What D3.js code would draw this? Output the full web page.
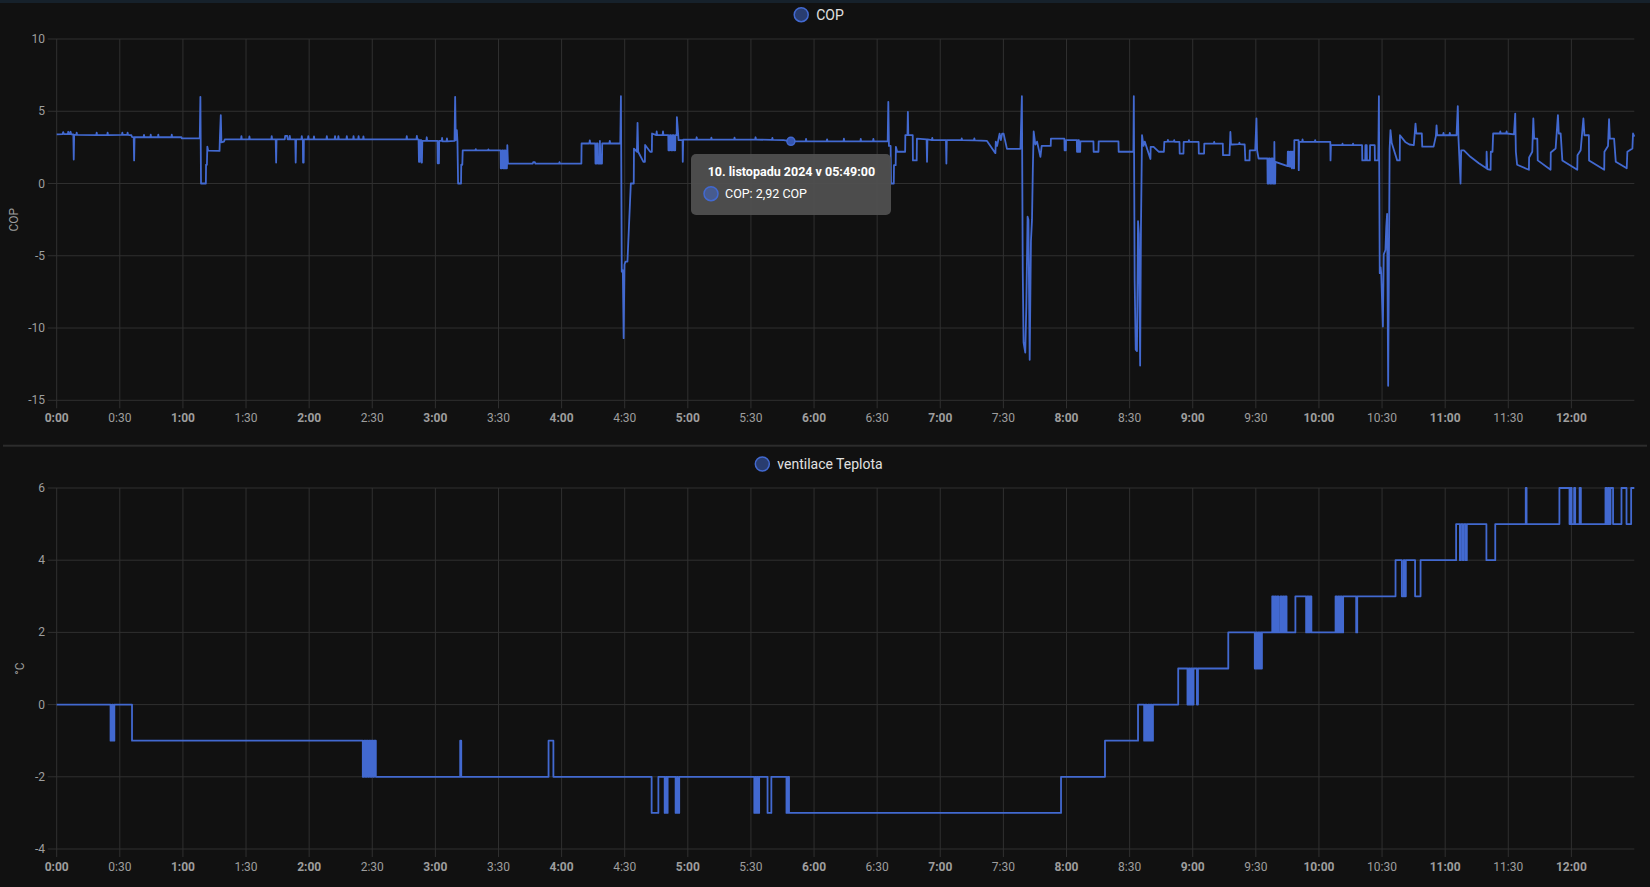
<!DOCTYPE html>
<html>
<head>
<meta charset="utf-8">
<script src="https://cdn.jsdelivr.net/npm/d3@7"></script>
<style>
  body { margin: 0; background: #111111; }
  svg { display: block; font-family: Roboto, "Noto Sans", sans-serif; }
</style>
</head>
<body>
<svg id="chart" width="1650" height="887"></svg>
<script>
// time in minutes since midnight (10. 11. 2024), value
const copPoints = [
  [0,3.4],[2.8,3.42],[3.1,3.56],[3.4,3.42],[5.3,3.42],[5.5,3.58],[5.8,3.42],[6.4,3.42],[6.6,3.58],[6.9,3.4],
  [7.9,3.4],[8.1,1.66],[8.3,3.36],[9.3,3.36],[9.5,3.52],[9.7,3.36],
  [18.8,3.35],[19.0,3.52],[19.2,3.35],[24.0,3.35],[24.2,3.52],[24.4,3.35],
  [31.0,3.36],[31.2,3.52],[31.4,3.36],[33.5,3.36],[33.7,3.52],[33.9,3.36],
  [35.5,3.34],[35.8,3.22],[36.6,3.2],[36.8,1.6],[37.0,3.2],
  [41.3,3.2],[41.5,3.36],[41.7,3.2],[44.5,3.2],[44.7,3.38],[44.9,3.2],
  [48.1,3.2],[48.3,3.38],[48.5,3.2],[54.5,3.2],[54.7,3.38],[54.9,3.2],
  [59.3,3.2],[59.5,3.13],[68.0,3.12],
  [68.3,6.0],[68.6,0],[70.9,0],[71.0,1.3],[71.4,1.3],[71.6,2.55],[72.0,2.28],[77.4,2.26],
  [77.6,3.3],[78.0,4.73],[78.3,2.85],[79.5,2.9],[79.9,3.05],
  [87.6,3.05],[87.8,3.28],[88.0,3.05],[91.4,3.05],[91.6,3.26],[91.8,3.05],
  [102.0,3.05],[102.2,3.28],[102.4,3.05],[104.1,3.05],[104.3,1.45],[104.5,3.05],
  [108.4,3.05],[108.6,3.3],[109.6,3.3],[109.8,3.05],[110.6,3.05],[110.8,3.3],[111.0,3.05],
  [113.4,3.05],[113.6,1.45],[113.8,3.05],[116.3,3.05],[116.5,3.28],[116.7,3.05],
  [117.0,3.05],[117.1,1.45],[117.4,1.45],[117.5,3.05],
  [119.4,3.05],[119.6,3.28],[119.8,3.05],[122.1,3.05],[122.3,3.26],[122.5,3.05],
  [128.2,3.05],[128.4,3.28],[128.6,3.05],[132.1,3.05],[132.3,3.28],[132.5,3.05],
  [133.7,3.05],[133.9,3.28],[134.1,3.05],[137.7,3.05],[137.9,3.28],[138.1,3.05],
  [140.9,3.05],[141.1,3.28],[141.3,3.05],[143.3,3.05],[143.5,3.28],[143.7,3.05],
  [145.6,3.05],[145.8,3.26],[146.0,3.05],[166.2,3.05],[166.4,3.28],[166.6,3.05],
  [171.0,3.05],[171.2,3.3],[171.4,3.05],[172.0,3.05],[172.2,1.5],[172.5,1.5],[172.6,3.0],
  [173.3,3.0],[173.4,1.45],[173.6,1.45],[173.8,2.95],[175.7,2.95],[175.9,3.2],[176.1,2.95],
  [181.0,2.95],[181.1,1.4],[181.7,1.4],[181.8,2.95],[183.0,2.95],[183.2,3.15],[183.4,2.92],
  [185.3,2.92],[185.5,3.12],[185.7,2.92],[189.1,2.95],
  [189.4,6.0],[189.7,3.0],[190.2,3.7],[190.5,2.9],[190.8,0],[192.2,0],[192.3,1.3],[192.8,1.3],[193.0,2.3],
  [199.0,2.3],[199.2,2.38],[199.4,2.3],[205.0,2.3],[205.2,2.36],[205.4,2.3],[211.0,2.3],
  [211.1,1.05],[211.6,1.05],[211.7,2.3],[212.2,2.3],[212.3,1.05],[212.8,1.05],[212.9,2.3],[213.3,2.3],
  [213.4,1.05],[214.0,1.05],[214.2,2.65],[214.5,1.38],
  [226.3,1.38],[226.5,1.48],[227.3,1.48],[227.5,1.38],[238.8,1.38],[239.0,1.48],[239.2,1.38],[249.4,1.38],
  [249.5,2.77],[253.2,2.77],[253.4,2.98],[253.6,2.77],[256.0,2.77],[256.1,1.38],[256.6,1.38],[256.7,2.77],
  [257.2,2.77],[257.3,1.38],[258.1,1.38],[258.2,2.95],[258.5,1.38],[259.2,1.38],[259.3,2.77],
  [262.7,2.77],[262.9,2.95],[263.1,2.77],[267.9,2.77],
  [268.2,6.04],[268.6,-6.1],[269.1,-6.0],[269.5,-10.7],[269.9,-5.6],[270.4,-5.4],[271.3,-5.4],[272.9,0],[274.3,0],
  [274.4,2.42],[275.8,2.2],[276.1,4.2],[276.4,2.2],[278.9,1.5],[279.6,1.5],[279.7,2.67],[282.1,2.2],[282.9,2.2],[283.0,3.46],
  [285.0,3.35],[285.2,3.6],[285.4,3.35],[288.0,3.35],[288.2,3.6],[288.4,3.35],[290.7,3.35],
  [290.8,2.3],[291.4,2.3],[291.5,3.35],[292.0,3.35],[292.1,2.3],[292.7,2.3],[292.8,3.35],[293.3,3.35],
  [293.4,2.3],[294.0,2.3],[294.1,3.35],
  [294.7,3.35],[294.8,4.6],[295.6,3.0],[297.5,3.0],[297.6,1.5],[297.8,3.04],
  [304.0,3.04],[304.2,3.2],[304.4,3.04],[311.0,3.04],[311.2,3.18],[311.4,3.04],[322.0,3.04],[322.2,3.18],[322.4,3.04],
  [332.0,3.04],[332.2,3.2],[332.4,3.04],[340.0,3.02],[340.2,3.16],[340.4,3.02],
  [345.5,3.0],[349.0,2.92],
  [356.0,2.92],[356.2,3.08],[356.4,2.92],[366.0,2.92],[366.2,3.06],[366.4,2.92],[374.0,2.92],[374.2,3.1],[374.4,2.92],
  [382.0,2.92],[382.2,3.08],[382.4,2.92],[388.0,2.92],[388.2,3.08],[388.4,2.92],
  [395.0,2.92],[395.3,5.65],[395.6,2.6],[396.4,2.6],[396.6,0],[397.9,0],[398.0,1.27],[398.8,1.27],[398.9,2.54],
  [399.5,2.2],[403.3,2.2],[403.4,3.35],[404.4,3.35],[404.6,4.96],[404.8,3.35],[406.9,3.35],[407.0,1.6],[408.8,1.6],[408.9,3.1],
  [413.5,3.05],[413.7,1.5],[413.9,3.05],[416.0,3.0],[416.2,3.15],[416.4,3.0],[422.7,3.0],[422.9,1.38],[423.1,3.0],
  [430.0,3.0],[430.2,3.12],[430.4,3.0],[436.0,2.98],[436.2,3.12],[436.4,2.98],
  [442.2,2.95],[446.2,2.1],[446.4,2.9],[447.0,2.6],[448.2,3.45],[448.8,3.0],[449.4,3.45],[450.1,3.45],[451.7,2.4],[458.1,2.4],
  [458.8,6.04],[459.2,-6.0],[459.6,-11.0],[460.4,-11.7],[460.9,-8.5],[461.5,-2.3],[461.9,-2.5],[462.5,-12.2],
  [463.1,-4.0],[463.6,-2.5],[464.0,1.0],[464.4,3.6],[465.2,2.7],[466.0,2.9],[467.6,1.85],[468.2,2.6],
  [472.5,2.6],[472.6,3.1],[479.0,3.1],[479.1,2.3],[479.7,2.3],[479.8,3.0],[484.9,3.0],
  [485.0,2.2],[485.4,2.2],[485.5,3.0],[485.9,3.0],[486.0,2.2],[486.5,2.2],[486.6,2.92],[492.8,2.92],[492.9,2.2],
  [495.2,2.2],[495.3,2.92],[504.7,2.92],[504.8,2.2],[511.8,2.2],
  [512.0,6.04],[512.4,-6.7],[512.9,-11.5],[513.5,-11.6],[514.0,-2.6],[514.4,-3.5],[515.0,-12.6],[515.4,-3.0],
  [515.9,3.35],[516.6,2.6],[517.2,2.9],[519.9,1.7],
  [520.0,2.54],[521.4,2.54],[523.8,2.2],[526.3,2.2],[526.5,2.88],[528.0,2.9],[528.2,3.02],[528.4,2.9],[531.0,2.9],
  [531.2,3.0],[531.4,2.88],[533.7,2.88],[533.8,2.07],[535.6,2.07],[535.7,2.88],
  [538.0,2.88],[538.2,3.0],[538.4,2.88],[542.8,2.88],[542.9,2.07],[545.4,2.07],[545.5,2.76],
  [550.0,2.76],[550.2,2.88],[550.4,2.76],[554.3,2.76],[554.4,1.96],[557.5,1.96],[557.9,3.57],[558.2,2.7],[558.7,2.7],
  [562.0,2.72],[562.2,2.82],[562.4,2.72],[564.7,2.7],[565.0,1.6],[567.0,1.6],[567.1,2.3],[569.7,2.3],[570.3,4.5],
  [570.6,2.3],[571.3,1.73],
  [575.5,1.73],[575.6,0],[576.1,0],[576.2,1.73],[576.7,1.73],[576.8,0],[577.4,0],[577.5,1.73],[578.0,1.73],
  [578.1,0],[578.7,0],[578.8,2.88],[579.0,0],[579.2,0],[579.3,1.5],
  [585.1,1.2],[585.2,2.2],[585.7,2.2],[585.8,1.18],[586.3,1.17],[586.4,2.2],[586.9,2.2],[587.0,1.12],[587.2,1.05],
  [587.4,2.2],[587.9,2.2],[588.0,1.05],[588.2,1.05],[588.3,3.0],
  [590.3,3.0],[590.4,0.92],[590.6,2.88],[592.0,2.88],[592.2,3.05],[592.4,2.88],
  [598.0,2.88],[598.2,3.0],[598.4,2.88],[605.4,2.88],[605.5,1.6],[605.7,2.65],
  [611.0,2.65],[611.2,2.76],[611.4,2.65],[616.0,2.65],[616.2,2.76],[616.4,2.65],[620.5,2.65],
  [620.6,1.6],[622.0,1.6],[622.1,2.65],[622.7,2.65],[622.8,1.6],[624.2,1.6],[624.3,2.65],[626.5,2.65],[626.6,1.6],[628.2,1.6],
  [628.5,6.04],[628.9,-6.2],[629.3,-5.8],[629.6,-6.2],[630.4,-9.9],[630.8,-4.9],[631.6,-4.6],[632.0,-3.0],[632.4,-2.1],
  [632.9,-14.0],[633.6,2.4],[634.0,3.7],[634.6,2.8],[637.2,1.6],[638.4,1.6],[638.5,3.34],[641.2,2.85],[643.0,2.7],
  [645.1,2.65],[645.9,4.15],[646.3,3.46],[648.9,3.46],[649.1,2.55],[654.5,2.55],[655.6,3.3],[655.9,4.03],[656.2,3.34],
  [659.0,3.34],[659.2,3.5],[659.4,3.34],[662.0,3.34],[662.2,3.5],[662.4,3.34],[665.4,3.34],
  [666.0,5.35],[666.3,3.2],[667.3,0],[667.6,2.3],[668.9,2.3],[672.0,1.85],[676.0,1.4],[679.6,1.05],[679.7,2.2],
  [680.0,1.0],[681.6,0.95],[681.7,2.2],[682.5,2.2],[682.8,3.46],
  [686.0,3.46],[686.2,3.6],[686.4,3.46],[689.0,3.46],[689.2,3.6],[689.4,3.46],[692.7,3.4],[693.3,4.84],[693.6,2.2],
  [694.2,1.3],[699.8,0.95],[699.9,1.8],[701.4,2.2],[701.9,4.5],[702.3,3.1],[703.8,3.1],[704.0,1.6],[710.1,0.95],
  [710.2,2.15],[712.5,2.42],[713.6,4.73],[714.0,3.46],[714.9,3.46],[715.7,1.6],[722.8,0.95],[722.9,1.95],[724.4,2.3],
  [725.7,4.5],[726.2,3.34],[728.3,3.34],[728.4,1.6],[735.6,0.95],[735.7,2.2],[737.4,2.6],[737.9,4.45],[738.3,3.1],
  [740.3,3.1],[741.1,1.5],[746.3,1.05],[746.6,2.2],[749.0,2.42],[749.3,3.46],[749.9,3.25]
];

// step changes of the ventilation temperature: minute, °C
const ventPoints = [
  [0,0],[25.6,-1],[26.3,0],[26.8,-1],[27.4,0],[35.8,-1],
  [145.5,-2],[146.1,-1],[146.8,-2],[147.3,-1],[148.0,-2],[148.5,-1],[149.2,-2],[149.7,-1],[150.4,-2],[150.9,-1],[151.7,-2],
  [191.8,-1],[192.3,-2],[233.8,-1],[236.1,-2],
  [282.8,-3],[286.0,-2],[289.0,-3],[289.5,-2],[290.0,-3],[290.4,-2],[294.2,-3],[294.8,-2],[295.3,-3],[295.9,-2],
  [331.6,-3],[332.1,-2],[332.6,-3],[333.1,-2],[333.5,-3],[333.9,-2],[337.9,-3],[339.7,-2],
  [346.9,-3],[347.5,-2],[348.1,-3],
  [477.4,-2],[498.3,-1],[514.0,0],
  [516.9,-1],[517.5,0],[518.1,-1],[518.8,0],[519.4,-1],[520.0,0],[520.5,-1],[521.1,0],
  [533.1,1],[537.5,0],[538.1,1],[538.7,0],[539.3,1],[539.8,0],[540.4,1],[542.0,0],[542.5,1],
  [556.9,2],[569.5,1],[570.1,2],[570.6,1],[571.2,2],[571.7,1],[572.3,2],[572.6,1],[572.9,2],
  [577.8,3],[578.4,2],[579.0,3],[579.6,2],[580.2,3],[580.8,2],
  [581.7,3],[582.3,2],[582.9,3],[583.5,2],[584.0,3],[584.6,2],
  [588.8,3],[593.9,2],[594.4,3],[595.1,2],[595.6,3],[596.4,2],
  [607.9,3],[608.5,2],[609.1,3],[609.7,2],[610.3,3],[610.9,2],[611.5,3],
  [617.7,2],[618.2,3],
  [636.4,4],[639.4,3],[640.3,4],[640.8,3],[641.3,4],[645.7,3],[648.3,4],
  [665.2,5],[667.0,4],[667.5,5],[668.4,4],[668.9,5],[669.8,4],[670.3,5],
  [679.6,4],[683.8,5],[698.3,6],[698.7,5],
  [714.3,6],[719.1,5],[719.6,6],[720.1,5],[721.3,6],[721.8,5],[723.9,6],[724.5,5],
  [736.2,6],[736.8,5],[737.4,6],[738.0,5],[738.6,6],[739.8,5],
  [743.8,6],[746.2,5],[748.4,6],[749.9,6]
];

const copTicks = [10, 5, 0, -5, -10, -15];
const ventTicks = [6, 4, 2, 0, -2, -4];
const legendCop = 'COP';
const legendVent = 'ventilace Teplota';
const tooltipTitle = '10. listopadu 2024 v 05:49:00';
const tooltipBody = 'COP: 2,92 COP';
const hoverMinute = 349;
const hoverValue = 2.92;

const lineColor = '#4269d0';
const gridColor = '#303030';
const tickColor = '#9e9e9e';

const svg = d3.select('#chart');
const left = 56.7, right = 1634.3;
const base = new Date(2024, 10, 10, 0, 0, 0);
const toDate = m => new Date(base.getTime() + m * 60000);

const x = d3.scaleTime()
  .domain([toDate(0), toDate(749.9)])
  .range([left, right]);
const xTicks = x.ticks(d3.timeMinute.every(30));

svg.append('rect').attr('x', 0).attr('y', 0).attr('width', 1650).attr('height', 3).attr('fill', '#16212b');
svg.append('rect').attr('x', 3).attr('y', 444.7).attr('width', 1644).attr('height', 2).attr('fill', '#2c2c2c');

function drawPanel(opt) {
  const y = d3.scaleLinear().domain(opt.domain).range([opt.bottom, opt.top]);
  const g = svg.append('g');

  // grid
  g.selectAll('.hgrid').data(opt.ticks).enter().append('line')
    .attr('x1', left - 9).attr('x2', right)
    .attr('y1', d => y(d)).attr('y2', d => y(d))
    .attr('stroke', gridColor).attr('stroke-width', 1);
  g.selectAll('.vgrid').data(xTicks).enter().append('line')
    .attr('x1', d => x(d)).attr('x2', d => x(d))
    .attr('y1', opt.top).attr('y2', opt.bottom + 8)
    .attr('stroke', gridColor).attr('stroke-width', 1);

  // y tick labels
  g.selectAll('.ylab').data(opt.ticks).enter().append('text')
    .attr('x', 45).attr('y', d => y(d))
    .attr('text-anchor', 'end').attr('dominant-baseline', 'central')
    .attr('fill', tickColor).attr('font-size', 12)
    .text(d => d);

  // x tick labels, whole hours bold
  g.selectAll('.xlab').data(xTicks).enter().append('text')
    .attr('x', d => x(d)).attr('y', opt.bottom + 18)
    .attr('text-anchor', 'middle').attr('dominant-baseline', 'central')
    .attr('fill', tickColor).attr('font-size', 12)
    .attr('font-weight', d => d.getMinutes() === 0 ? 700 : 400)
    .text(d => d3.timeFormat('%-H:%M')(d));

  // axis title
  g.append('text')
    .attr('transform', `translate(${opt.titleX},${(opt.top + opt.bottom) / 2}) rotate(-90)`)
    .attr('text-anchor', 'middle').attr('dominant-baseline', 'central')
    .attr('fill', tickColor).attr('font-size', 12)
    .text(opt.title);

  // series
  const line = d3.line()
    .x(d => x(toDate(d[0])))
    .y(d => y(d[1]))
    .curve(opt.curve);
  g.append('path').datum(opt.points)
    .attr('d', line)
    .attr('fill', 'none')
    .attr('stroke', lineColor).attr('stroke-width', 1.8)
    .attr('stroke-linejoin', 'round');

  // legend, centred
  const lg = g.append('g');
  const lt = lg.append('text')
    .attr('y', opt.legendY).attr('dominant-baseline', 'central')
    .attr('fill', '#e1e1e1').attr('font-size', 14)
    .text(opt.legend);
  const tw = lt.node().getComputedTextLength();
  const start = 819 - (14 + 8 + tw) / 2;
  lg.append('circle').attr('cx', start + 7).attr('cy', opt.legendY).attr('r', 7)
    .attr('fill', 'rgba(66,105,208,0.5)').attr('stroke', lineColor).attr('stroke-width', 1.5);
  lt.attr('x', start + 22);

  return y;
}

const yCop = drawPanel({
  domain: [-15, 10], top: 39, bottom: 400.3, ticks: copTicks,
  points: copPoints, curve: d3.curveLinear,
  title: 'COP', titleX: 14, legend: legendCop, legendY: 14.7
});

drawPanel({
  domain: [-4, 6], top: 488, bottom: 849, ticks: ventTicks,
  points: ventPoints, curve: d3.curveStepAfter,
  title: '°C', titleX: 20, legend: legendVent, legendY: 464
});

// hover point and tooltip
svg.append('circle')
  .attr('cx', x(toDate(hoverMinute))).attr('cy', yCop(hoverValue)).attr('r', 4)
  .attr('fill', '#3556b0').attr('stroke', lineColor).attr('stroke-width', 1.5);

const tip = svg.append('g');
tip.append('rect').attr('x', 691).attr('y', 154).attr('width', 200).attr('height', 61).attr('rx', 5)
  .attr('fill', 'rgba(80,80,80,0.95)');
tip.append('text').attr('x', 707.7).attr('y', 171.7).attr('dominant-baseline', 'central')
  .attr('fill', '#ffffff').attr('font-size', 12.5).attr('font-weight', 700)
  .text(tooltipTitle);
tip.append('circle').attr('cx', 711).attr('cy', 193.7).attr('r', 7)
  .attr('fill', 'rgba(66,105,208,0.5)').attr('stroke', lineColor).attr('stroke-width', 1.5);
tip.append('text').attr('x', 725).attr('y', 193.7).attr('dominant-baseline', 'central')
  .attr('fill', '#ffffff').attr('font-size', 12.5)
  .text(tooltipBody);
</script>
</body>
</html>
